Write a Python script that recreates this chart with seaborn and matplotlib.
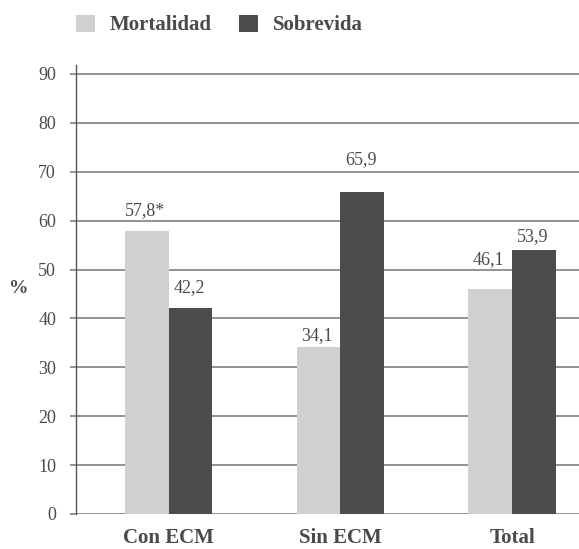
import matplotlib
matplotlib.use("Agg")
import matplotlib.pyplot as plt
from matplotlib.patches import Patch
import seaborn as sns
import pandas as pd

# Data
categories = ["Con ECM", "Sin ECM", "Total"]
series_names = ["Mortalidad", "Sobrevida"]
mortalidad = [57.8, 34.1, 46.1]
sobrevida = [42.2, 65.9, 53.9]
mortalidad_labels = ["57,8*", "34,1", "46,1"]
sobrevida_labels = ["42,2", "65,9", "53,9"]
y_ticks = [0, 10, 20, 30, 40, 50, 60, 70, 80, 90]

# Styling
light = "#cfd0d2"
dark = "#4b4c4e"
text_color = "#4a4a4a"
grid_color = "#8a8a8a"
# vertical gap (points) between each bar top and its value label
mort_offsets = [11.5, 5, 18]
sobr_offsets = [11.5, 20, 7]

df = pd.DataFrame({
    "categoria": categories * 2,
    "serie": [series_names[0]] * 3 + [series_names[1]] * 3,
    "valor": mortalidad + sobrevida,
})

sns.set_theme(style="white")
plt.rcParams["font.family"] = ["Liberation Serif", "DejaVu Serif"]

fig = plt.figure(figsize=(5.79, 5.49), dpi=100)
ax = fig.add_axes([75.5 / 579, 35 / 549, (579 - 75.5) / 579, 449 / 549])

sns.barplot(
    data=df, x="categoria", y="valor", hue="serie",
    hue_order=series_names, order=categories,
    palette=[light, dark], width=0.507, gap=0, dodge=True,
    saturation=1, errorbar=None, legend=False, ax=ax,
    edgecolor="none", linewidth=0,
)

ax.set_xlim(-0.5415, 2.39)
ax.set_ylim(0, 91.84)
ax.set_yticks(y_ticks)
ax.set_yticklabels([str(t) for t in y_ticks])

ax.yaxis.grid(True, color=grid_color, linewidth=1.3)
ax.xaxis.grid(False)
ax.set_axisbelow(True)

for side in ["top", "right", "bottom"]:
    ax.spines[side].set_visible(False)
ax.spines["left"].set_color("#555555")
ax.spines["left"].set_linewidth(1.0)

ax.tick_params(axis="y", direction="out", length=4, width=1.3, color=grid_color,
               pad=10, labelsize=13, labelcolor=text_color, left=True)
ax.tick_params(axis="x", length=0, pad=10, labelsize=15, labelcolor=text_color)
for lbl in ax.get_xticklabels():
    lbl.set_fontweight("bold")

ax.set_xlabel("")
ax.set_ylabel("%", rotation=0, fontsize=14, fontweight="bold", color=text_color,
              ha="center", va="center")
ax.yaxis.set_label_coords(-0.112, 0.503)

# value labels above bars
containers = ax.containers
for cont, labels, offs in zip(containers, [mortalidad_labels, sobrevida_labels],
                              [mort_offsets, sobr_offsets]):
    for bar, txt, off in zip(cont, labels, offs):
        x = bar.get_x() + bar.get_width() / 2
        y = bar.get_height()
        ax.annotate(txt, (x, y), xytext=(-1, off), textcoords="offset points",
                    ha="center", va="baseline", fontsize=13, color=text_color)

handles = [Patch(facecolor=light, edgecolor="none"),
           Patch(facecolor=dark, edgecolor="none")]
fig.legend(handles, series_names, loc="center left",
           bbox_to_anchor=(76 / 579, 1 - 25 / 549), ncol=2, frameon=False,
           borderpad=0, borderaxespad=0, handlelength=0.9, handleheight=0.9,
           handletextpad=0.7, columnspacing=1.35,
           prop={"family": ["Liberation Serif"], "weight": "bold", "size": 15},
           labelcolor=text_color)

fig.savefig("out.png", dpi=100)
